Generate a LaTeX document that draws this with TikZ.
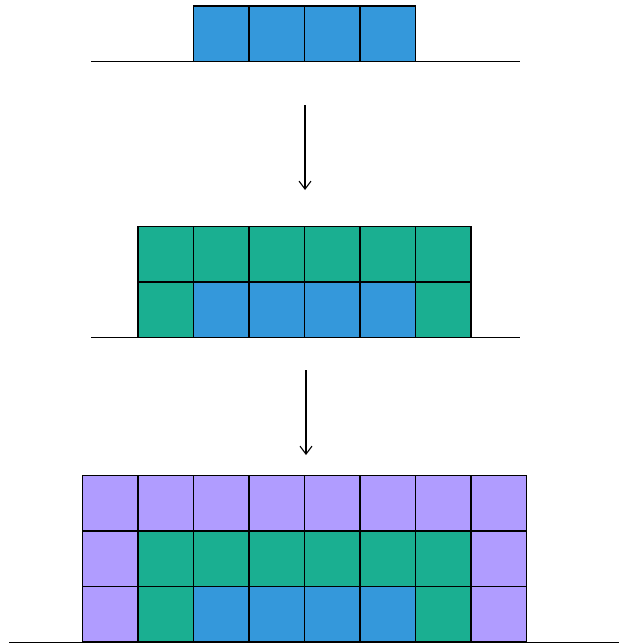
\documentclass[tikz,border=0pt]{standalone}
\usetikzlibrary{arrows.meta}
\definecolor{cblue}{HTML}{3498DB}
\definecolor{cgreen}{HTML}{1AAF91}
\definecolor{cpurple}{HTML}{B09CFF}
\tikzset{
  cell/.style={minimum size=55.5pt, inner sep=0pt, outer sep=0pt, anchor=north west},
  cellborder/.style={draw=black, line width=1.3pt},
  ground/.style={draw=black, line width=1.1pt},
  flow/.style={draw=black, line width=1.1pt, -{Straight Barb[length=8pt,width=12pt,line width=1.1pt]}}
}
\begin{document}
\begin{tikzpicture}[x=1pt,y=-1pt]
\useasboundingbox (0,0) rectangle (619,643);
% ground lines
\coordinate (g1a) at (91,61.5); \coordinate (g1b) at (520,61.5);
\coordinate (g2a) at (91,337.5); \coordinate (g2b) at (520,337.5);
\coordinate (g3a) at (9,642.6); \coordinate (g3b) at (619,642.6);
\draw[ground] (g1a) -- (g1b);
\draw[ground] (g2a) -- (g2b);
\draw[ground] (g3a) -- (g3b);
% top
\foreach \i in {0,...,3}
  \node[cell, fill=cblue] (t\i) at (193.5+55.5*\i, 6) {};
% middle
\foreach \i in {0,...,5}
  \node[cell, fill=cgreen] (mA\i) at (138+55.5*\i, 226.5) {};
\node[cell, fill=cgreen] (mB0) at (138, 282) {};
\foreach \i in {1,...,4}
  \node[cell, fill=cblue] (mB\i) at (138+55.5*\i, 282) {};
\node[cell, fill=cgreen] (mB5) at (138+55.5*5, 282) {};
% bottom
\foreach \i in {0,...,7}
  \node[cell, fill=cpurple] (bA\i) at (82.5+55.5*\i, 475.5) {};
\node[cell, fill=cpurple] (bB0) at (82.5, 531) {};
\foreach \i in {1,...,6}
  \node[cell, fill=cgreen] (bB\i) at (82.5+55.5*\i, 531) {};
\node[cell, fill=cpurple] (bB7) at (82.5+55.5*7, 531) {};
\node[cell, fill=cpurple] (bC0) at (82.5, 586.5) {};
\node[cell, fill=cgreen] (bC1) at (82.5+55.5, 586.5) {};
\foreach \i in {2,...,5}
  \node[cell, fill=cblue] (bC\i) at (82.5+55.5*\i, 586.5) {};
\node[cell, fill=cgreen] (bC6) at (82.5+55.5*6, 586.5) {};
\node[cell, fill=cpurple] (bC7) at (82.5+55.5*7, 586.5) {};
% borders on top of all fills
\foreach \n in {t0,t1,t2,t3,
  mA0,mA1,mA2,mA3,mA4,mA5,mB0,mB1,mB2,mB3,mB4,mB5,
  bA0,bA1,bA2,bA3,bA4,bA5,bA6,bA7,
  bB0,bB1,bB2,bB3,bB4,bB5,bB6,bB7,
  bC0,bC1,bC2,bC3,bC4,bC5,bC6,bC7}
  \draw[cellborder] (\n.north west) rectangle (\n.south east);
% arrows
\coordinate (a1s) at (305,105); \coordinate (a1e) at (305,190);
\coordinate (a2s) at (306,370); \coordinate (a2e) at (306,455);
\draw[flow] (a1s) -- (a1e);
\draw[flow] (a2s) -- (a2e);
\end{tikzpicture}
\end{document}
